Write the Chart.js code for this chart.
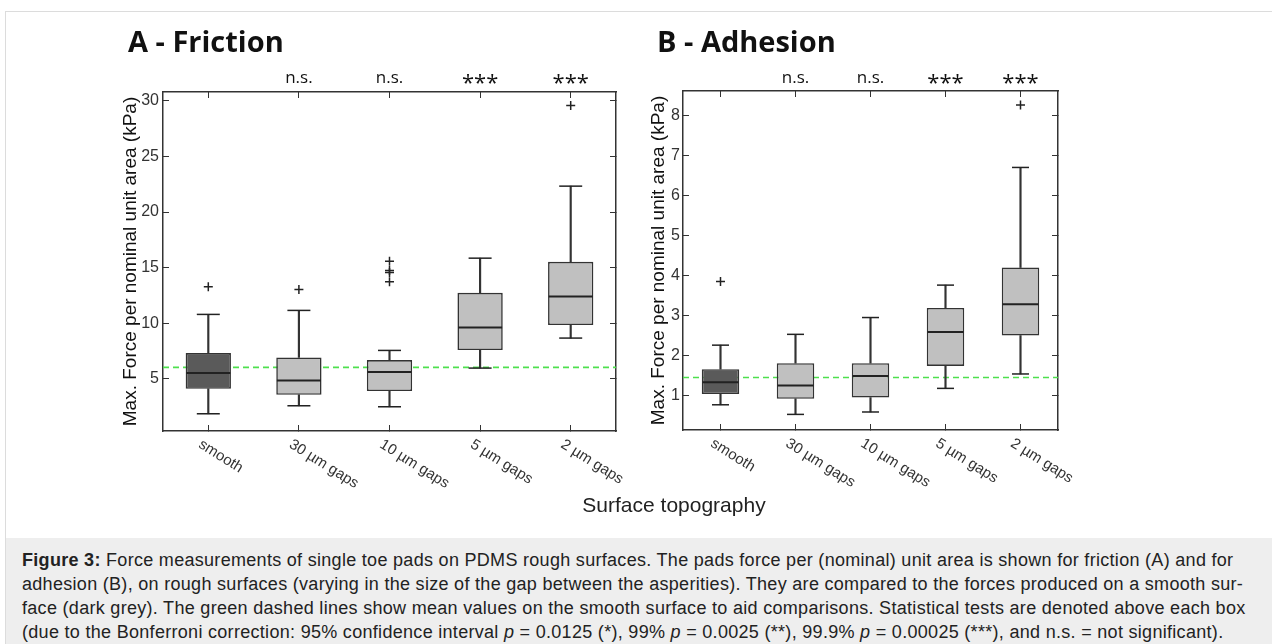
<!DOCTYPE html>
<html>
<head>
<meta charset="utf-8">
<script src="https://cdn.jsdelivr.net/npm/chart.js@4.4.1/dist/chart.umd.min.js"></script>
<style>
  body { margin: 0; background: #fff; width: 1272px; height: 644px; overflow: hidden; position: relative;
         font-family: "Liberation Sans", Arial, sans-serif; }
  #frame { position: absolute; left: 5px; top: 11px; width: 1267px; height: 633px;
           border-top: 1px solid #dcdcdc; border-left: 1px solid #dcdcdc; }
  #wrapA { position: absolute; left: 110px; top: 0; }
  #wrapB { position: absolute; left: 640px; top: 0; }
  #xtitle { position: absolute; left: 674px; top: 493px; transform: translateX(-50%);
            font-size: 21px; color: #222; white-space: nowrap; }
  #caption { position: absolute; left: 6px; top: 538px; width: 1266px; height: 106px; background: #eeeeee; }
  #caption p { margin: 0; position: absolute; left: 16px; top: 10px; font-size: 18px; line-height: 24px;
               letter-spacing: 0.3px; color: #222; white-space: nowrap; }
</style>
</head>
<body>
<div id="frame"></div>
<div id="wrapA"><canvas id="chartA" width="530" height="520"></canvas></div>
<div id="wrapB"><canvas id="chartB" width="440" height="520"></canvas></div>
<div id="xtitle">Surface topography</div>
<div id="caption"><p><b>Figure 3:</b> Force measurements of single toe pads on PDMS rough surfaces. The pads force per (nominal) unit area is shown for friction (A) and for<br>adhesion (B), on rough surfaces (varying in the size of the gap between the asperities). They are compared to the forces produced on a smooth sur-<br>face (dark grey). The green dashed lines show mean values on the smooth surface to aid comparisons. Statistical tests are denoted above each box<br>(due to the Bonferroni correction: 95% confidence interval <i>p</i> = 0.0125 (*), 99% <i>p</i> = 0.0025 (**), 99.9% <i>p</i> = 0.00025 (***), and n.s. = not significant).</p></div>

<script>
// categories and significance marks (same for both panels)
const categories = ["smooth", "30 \u00b5m gaps", "10 \u00b5m gaps", "5 \u00b5m gaps", "2 \u00b5m gaps"];
const sigLabels = ["", "n.s.", "n.s.", "***", "***"];
const yTitle = "Max. Force per nominal unit area (kPa)";

// A - Friction (kPa)
const fricLow = [1.85, 2.57, 2.48, 5.96, 8.66];
const fricQ1 = [4.10, 3.56, 3.89, 7.58, 9.83];
const fricMed = [5.51, 4.85, 5.60, 9.62, 12.40];
const fricQ3 = [7.31, 6.92, 6.68, 12.73, 15.52];
const fricHigh = [10.79, 11.15, 7.55, 15.85, 22.33];
const fricOutliers = [[13.27], [13.03], [15.58, 14.75, 14.55, 13.72], [], [29.58]];
const fricMean = 6.02;

// B - Adhesion (kPa)
const adhLow = [0.78, 0.54, 0.60, 1.19, 1.55];
const adhQ1 = [1.05, 0.93, 0.96, 1.75, 2.51];
const adhMed = [1.34, 1.26, 1.50, 2.60, 3.29];
const adhQ3 = [1.67, 1.82, 1.82, 3.20, 4.21];
const adhHigh = [2.27, 2.54, 2.96, 3.77, 6.71];
const adhOutliers = [[3.86], [], [], [], [8.27]];
const adhMean = 1.46;

const edge = "#333333";
const darkBox = "#5a5a5a";
const lightBox = "#c0c0c0";
const meanGreen = "#4ee04e";

// panel title, n.s./*** marks and rotated category labels
const panelText = {
  id: "panelText",
  afterDraw(chart, args, opts) {
    const ctx = chart.ctx;
    const area = chart.chartArea;
    const xs = chart.scales.x;
    ctx.save();
    ctx.fillStyle = "#111";
    ctx.textAlign = "left";
    ctx.textBaseline = "alphabetic";
    ctx.font = 'bold 29px "Open Sans"';
    ctx.fillText(opts.title, opts.titleX, 52);

    ctx.textAlign = "center";
    sigLabels.forEach((s, i) => {
      if (!s) return;
      const px = xs.getPixelForValue(i);
      if (s === "***") {
        ctx.font = '22px "Open Sans"';
        ctx.fillText(s, px, 90);
      } else {
        ctx.font = '17px "Open Sans"';
        ctx.fillText(s, px, 83);
      }
    });

    ctx.font = '15px "Liberation Sans"';
    ctx.fillStyle = "#333";
    ctx.textAlign = "left";
    ctx.textBaseline = "top";
    categories.forEach((c, i) => {
      const px = xs.getPixelForValue(i);
      ctx.save();
      ctx.translate(px - 4.5, area.bottom + 6);
      ctx.rotate(32 * Math.PI / 180);
      ctx.fillText(c, 0, 0);
      ctx.restore();
    });
    ctx.restore();
  }
};

function makePanel(id, p) {
  const boxData = p.q1.map((v, i) => [v, p.q3[i]]);
  const lowWhisk = p.low.map((v, i) => [v, p.q1[i]]);
  const highWhisk = p.q3.map((v, i) => [v, p.high[i]]);
  const caps = [];
  categories.forEach((c, i) => {
    caps.push({ x: c, y: p.low[i] });
    caps.push({ x: c, y: p.high[i] });
  });
  const outl = [];
  p.outliers.forEach((arr, i) => arr.forEach(v => outl.push({ x: categories[i], y: v })));

  const tickFont = { size: 16, family: '"Liberation Sans", Arial' };

  new Chart(document.getElementById(id), {
    type: "bar",
    data: {
      labels: categories,
      datasets: [
        {
          // mean on smooth surface, drawn first so the boxes cover it
          type: "line", label: "mean", xAxisID: "xm", yAxisID: "y",
          data: [{ x: -0.5, y: p.mean }, { x: 4.5, y: p.mean }],
          borderColor: meanGreen, borderWidth: 1.6, borderDash: [6, 4],
          pointRadius: 0, order: 10
        },
        {
          label: "whisker low", data: lowWhisk, xAxisID: "x", yAxisID: "y",
          backgroundColor: edge, barThickness: 1.5, grouped: false, order: 5
        },
        {
          label: "whisker high", data: highWhisk, xAxisID: "x", yAxisID: "y",
          backgroundColor: edge, barThickness: 1.5, grouped: false, order: 5
        },
        {
          label: "box", data: boxData, xAxisID: "x", yAxisID: "y",
          backgroundColor: categories.map((c, i) => i === 0 ? darkBox : lightBox),
          borderColor: edge, borderWidth: 1.6, borderSkipped: false,
          barPercentage: 0.5, categoryPercentage: 1, grouped: false, order: 4
        },
        {
          type: "line", label: "median", data: p.med, xAxisID: "x", yAxisID: "y",
          showLine: false, pointStyle: "line", pointRadius: p.medR,
          pointBorderColor: "#222", pointBorderWidth: 2, order: 1
        },
        {
          type: "line", label: "caps", data: caps, xAxisID: "x", yAxisID: "y",
          showLine: false, pointStyle: "line", pointRadius: p.capR,
          pointBorderColor: "#222", pointBorderWidth: 1.5, order: 1
        },
        {
          type: "line", label: "outliers", data: outl, xAxisID: "x", yAxisID: "y",
          showLine: false, pointStyle: "cross", pointRadius: 4.5,
          pointBorderColor: "#222", pointBorderWidth: 1.5, order: 1
        }
      ]
    },
    options: {
      responsive: false,
      animation: false,
      layout: { padding: 0 },
      plugins: {
        legend: { display: false },
        tooltip: { enabled: false },
        panelText: { title: p.title, titleX: p.titleX }
      },
      scales: {
        x: {
          type: "category", position: "bottom", offset: true,
          ticks: { display: false },
          grid: { offset: false, drawOnChartArea: false, tickLength: -6, color: edge },
          border: { color: edge, width: 1.5 },
          afterFit(s) { s.height = p.bottomH; }
        },
        x2: {
          type: "category", position: "top", offset: true,
          ticks: { display: false },
          grid: { offset: false, drawOnChartArea: false, tickLength: -6, color: edge },
          border: { color: edge, width: 1.5 },
          afterFit(s) { s.height = p.topH; }
        },
        // invisible linear axis spanning the full plot width, for the mean line
        xm: {
          type: "linear", position: "bottom", min: -0.5, max: 4.5, offset: false,
          ticks: { display: false }, grid: { display: false, offset: false }, border: { display: false },
          afterFit(s) { s.height = 0; }
        },
        y: {
          type: "linear", position: "left", min: p.min, max: p.max,
          ticks: { stepSize: p.step, includeBounds: false, padding: p.tickPad, color: "#333", font: tickFont },
          grid: { drawOnChartArea: false, tickLength: -6, color: edge },
          border: { color: edge, width: 1.5 },
          title: {
            display: true, text: yTitle, color: "#111",
            font: { size: 19, family: '"Liberation Sans", Arial' },
            padding: { top: p.titlePad, bottom: 0 }
          },
          afterFit(s) { s.width = p.leftW; }
        },
        y2: {
          type: "linear", position: "right", min: p.min, max: p.max,
          ticks: { display: false, stepSize: p.step, includeBounds: false },
          grid: { drawOnChartArea: false, tickLength: -6, color: edge },
          border: { color: edge, width: 1.5 },
          afterFit(s) { s.width = p.rightW; }
        }
      }
    },
    plugins: [panelText]
  });
}

makePanel("chartA", {
  title: "A - Friction", titleX: 18,
  low: fricLow, q1: fricQ1, med: fricMed, q3: fricQ3, high: fricHigh,
  outliers: fricOutliers, mean: fricMean,
  min: 0.3, max: 30.8, step: 5,
  leftW: 53, rightW: 23, topH: 92, bottomH: 89,
  tickPad: 10, titlePad: 9, medR: 22, capR: 11.5
});

makePanel("chartB", {
  title: "B - Adhesion", titleX: 17,
  low: adhLow, q1: adhQ1, med: adhMed, q3: adhQ3, high: adhHigh,
  outliers: adhOutliers, mean: adhMean,
  min: 0.15, max: 8.62, step: 1,
  leftW: 43, rightW: 22, topH: 91, bottomH: 90,
  tickPad: 9, titlePad: 7, medR: 18, capR: 8.5
});
</script>
</body>
</html>
